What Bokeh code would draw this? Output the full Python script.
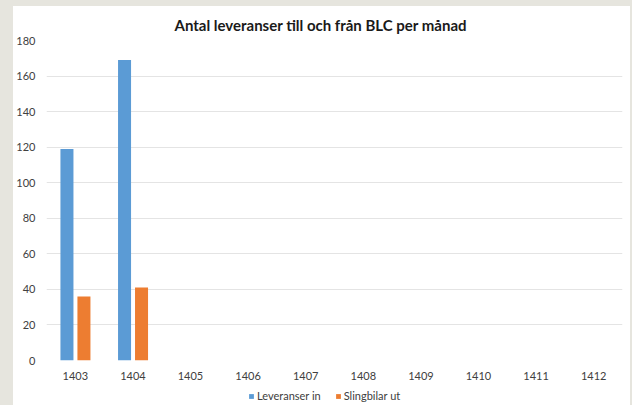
from bokeh.plotting import figure
from bokeh.models import ColumnDataSource, FactorRange, Range1d, Legend, LegendItem, Title, Spacer
from bokeh.layouts import column, row
from bokeh.transform import dodge
from bokeh.embed import file_html
from bokeh.resources import INLINE

months = ["1403", "1404", "1405", "1406", "1407", "1408", "1409", "1410", "1411", "1412"]
leveranser_in = [119, 169, 0, 0, 0, 0, 0, 0, 0, 0]
slingbilar_ut = [36, 41, 0, 0, 0, 0, 0, 0, 0, 0]
y_ticks = [0, 20, 40, 60, 80, 100, 120, 140, 160, 180]

src = ColumnDataSource(dict(months=months, lev=leveranser_in, sling=slingbilar_ut))

FONT = "Lato"
TXT = "#404040"
BLUE = "#5B9BD5"
ORANGE = "#ED7D31"
GRAY = "#e6e5de"

p = figure(width=617, height=381, x_range=FactorRange(*months), y_range=Range1d(0, 180),
           output_backend="svg", toolbar_location=None, tools="",
           min_border_left=33, min_border_right=8, min_border_top=34, min_border_bottom=27)
p.border_fill_color = "white"
p.background_fill_color = "white"
p.outline_line_color = None

p.title = Title(text="Antal leveranser till och från BLC per månad", align="left",
                text_font=FONT, text_font_size="15px", text_font_style="bold",
                text_color="#1a1a1a", offset=128, standoff=14)

p.vbar(x=dodge("months", -0.145, range=p.x_range), top="lev", width=0.226, source=src,
       fill_color=BLUE, line_color=None)
p.vbar(x=dodge("months", 0.15, range=p.x_range), top="sling", width=0.226, source=src,
       fill_color=ORANGE, line_color=None)

p.yaxis.ticker = y_ticks
p.xgrid.grid_line_color = None
p.ygrid.grid_line_color = "#e4e4e4"
p.ygrid.grid_line_width = 1

for ax in (p.xaxis[0], p.yaxis[0]):
    ax.axis_line_color = None
    ax.major_tick_line_color = None
    ax.minor_tick_line_color = None
    ax.major_tick_out = 0
    ax.major_tick_in = 0
    ax.major_label_text_font = FONT
    ax.major_label_text_font_size = "11px"
    ax.major_label_text_color = TXT
p.yaxis.major_label_standoff = 11
p.xaxis.major_label_standoff = 11

# legend strip below the chart (series glyphs lie outside its visible y range)
lg = figure(width=617, height=18, x_range=p.x_range, y_range=Range1d(1000, 1001),
            output_backend="svg", toolbar_location=None, tools="",
            x_axis_location=None, y_axis_location=None,
            min_border_left=0, min_border_right=0, min_border_top=0, min_border_bottom=0)
lg.outline_line_color = None
lg.grid.grid_line_color = None
lg.border_fill_color = "white"
l1 = lg.vbar(x=dodge("months", -0.145, range=lg.x_range), top="lev", width=0.226, source=src,
             fill_color=BLUE, line_color=None)
l2 = lg.vbar(x=dodge("months", 0.15, range=lg.x_range), top="sling", width=0.226, source=src,
             fill_color=ORANGE, line_color=None)

legend = Legend(items=[LegendItem(label="Leveranser in", renderers=[l1]),
                       LegendItem(label="Slingbilar ut", renderers=[l2])],
                orientation="horizontal", location=(202, 3),
                label_text_font=FONT, label_text_font_size="11px", label_text_color=TXT,
                glyph_width=6, glyph_height=6, label_standoff=3, spacing=14,
                padding=0, margin=0, label_height=11, border_line_color=None,
                background_fill_alpha=0)
lg.add_layout(legend, "center")

top_strip = Spacer(width=617, height=6, styles={"background-color": GRAY})
left_strip = Spacer(width=13, height=405, styles={"background-color": GRAY})
right_strip = Spacer(width=2, height=405, styles={"background-color": GRAY})

layout = row(left_strip, column(top_strip, p, lg, spacing=0), right_strip, spacing=0)
open("out.html", "w").write(file_html(layout, INLINE))
